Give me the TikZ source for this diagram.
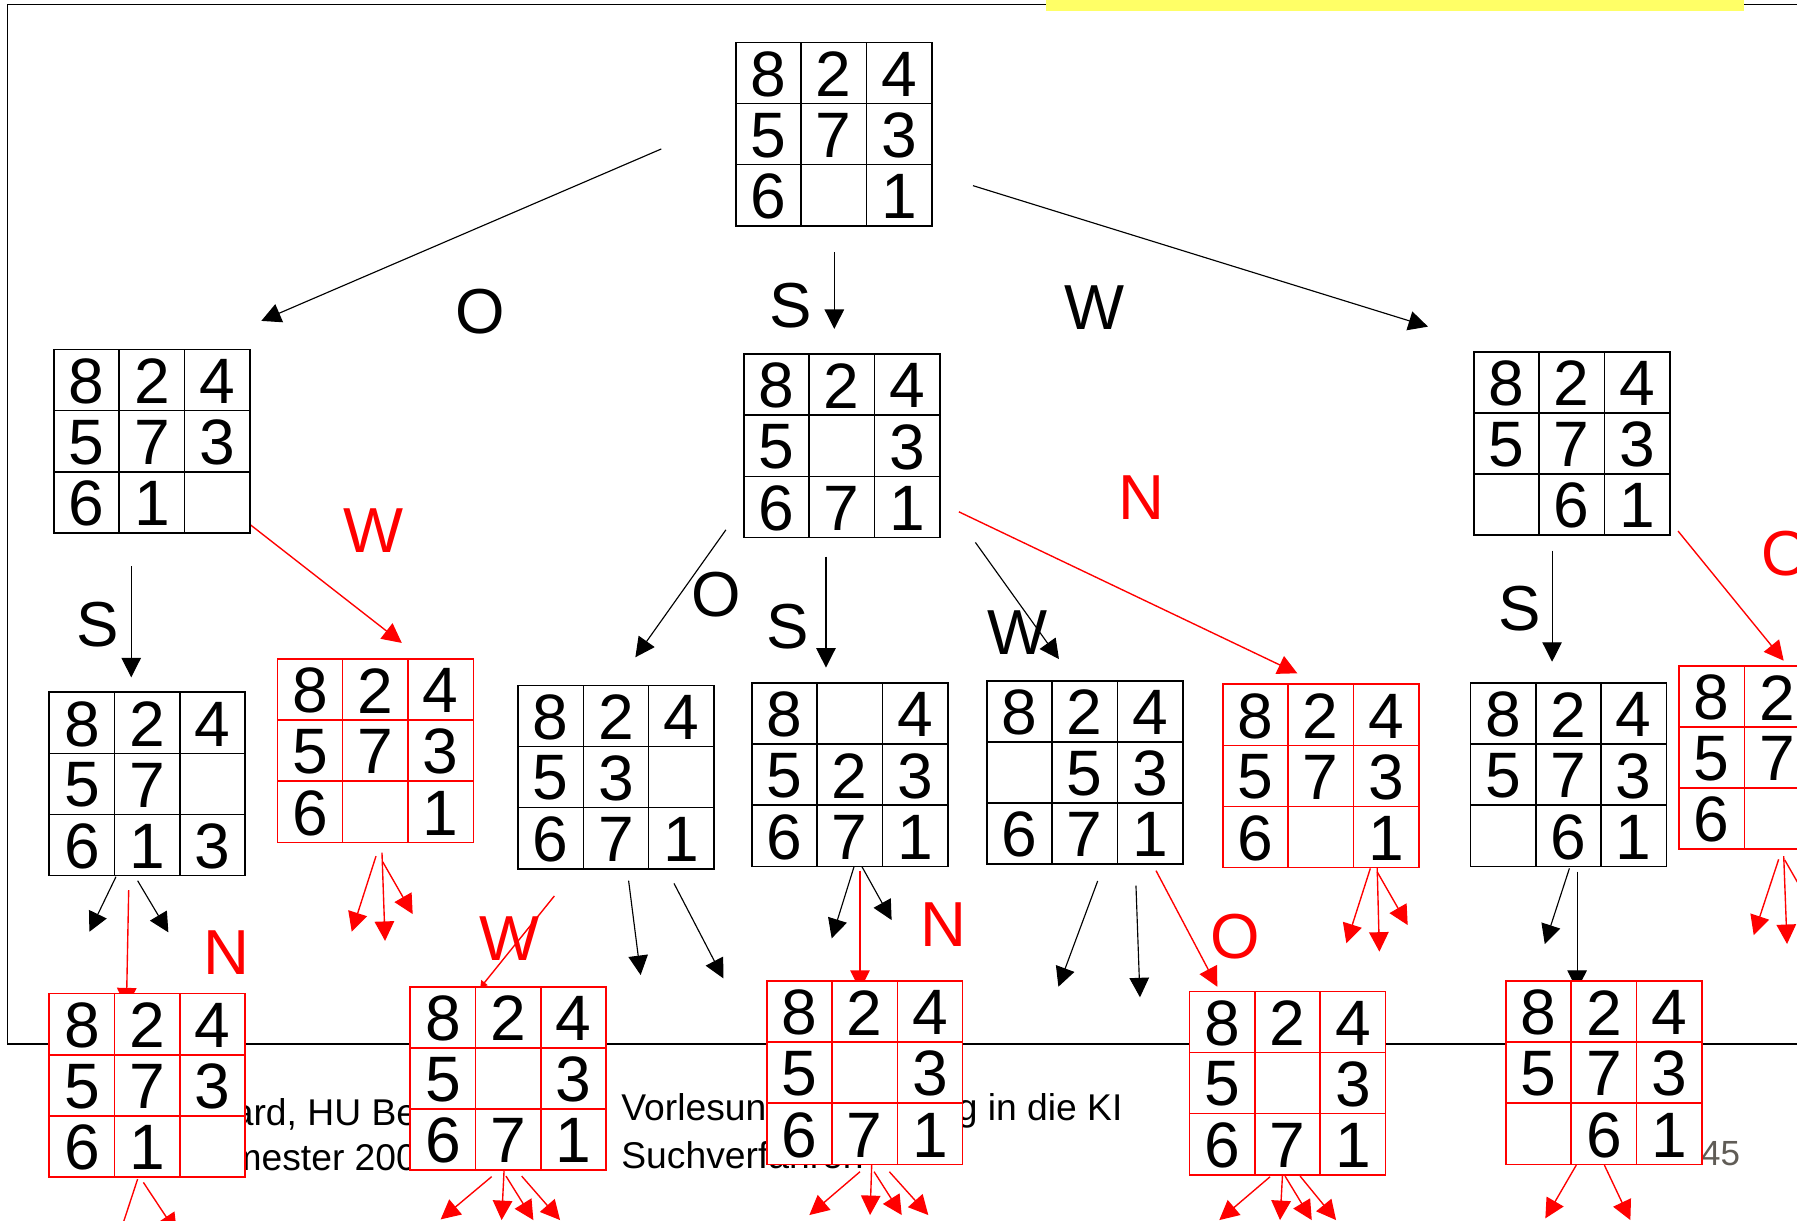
\documentclass[tikz,border=0pt]{standalone}
\usepackage{fontspec}
\setmainfont{Liberation Sans}
\usetikzlibrary{arrows.meta}
\definecolor{slideyellow}{RGB}{255,255,102}
\definecolor{pagegray}{RGB}{96,92,86}
\pgfdeclarelayer{links}
\pgfsetlayers{links,main}

\tikzset{
  boxnode/.style={minimum width=171pt, minimum height=160pt, inner sep=0pt, outer sep=0pt,
    line width=1.4pt, fill=white, anchor=north west},
  gridline/.style={line width=1.4pt},
  tile/.style={font=\fontsize{56}{60}\selectfont, inner sep=0pt, text=black},
  movelabel/.style={font=\fontsize{55.5}{60}\selectfont, inner sep=0pt},
  footer/.style={font=\fontsize{32.5}{36}\selectfont, inner sep=0pt, anchor=base west},
  frameline/.style={line width=1.3pt},
  move/.style={line width=1pt, -{Triangle[length=17pt,width=17pt]}},
  redmove/.style={move, red, line width=1.2pt},
  tinymove/.style={red, line width=1.2pt, -{Triangle[length=6pt,width=7pt]}},
}

% 8-puzzle state: name, left, top, grid colour, nine entries row by row
\newcommand\puzzle[5]{%
  \expandafter\xdef\csname bx#1\endcsname{#2}%
  \expandafter\xdef\csname by#1\endcsname{#3}%
  \node[boxnode, draw=#4] (#1) at (#2,#3) {};
  \draw[gridline, #4] (#2+57,#3) -- ++(0,160) (#2+114,#3) -- ++(0,160)
    (#2,#3+53.333) -- ++(171,0) (#2,#3+106.667) -- ++(171,0);
  \foreach \pzentry [count=\pzk from 0] in {#5}{%
    \pgfmathtruncatemacro\pzcol{mod(\pzk,3)}%
    \pgfmathtruncatemacro\pzrow{div(\pzk,3)}%
    \node[tile] (#1-\pzk) at ({#2+28.5+57*\pzcol},{#3+27.7+53.333*\pzrow}) {\pzentry};
  }%
}

% move arrow: [style]{from state}{x}{y}{to state}{x}{y}, points given in picture units
\newcommand\link[7][move]{%
  \edef\lkfx{\csname bx#2\endcsname}\edef\lkfy{\csname by#2\endcsname}%
  \edef\lktx{\csname bx#5\endcsname}\edef\lkty{\csname by#5\endcsname}%
  \draw[#1] ([shift={(#3-\lkfx,#4-\lkfy)}]#2.north west)
         -- ([shift={(#6-\lktx,#7-\lkty)}]#5.north west);
}

\begin{document}
\begin{tikzpicture}[x=1pt,y=-1pt]
\useasboundingbox (0,0) rectangle (1568,1065);
\clip (0,0) rectangle (1568,1065);

% slide frame and title bar
\draw[frameline] (6.5,911) -- (6.5,4) -- (1568,4);
\draw[frameline] (6.5,911) -- (1568,911);
\fill[slideyellow] (913,0) rectangle (1522,9.5);

% footer
\node[footer] (author) at (203,982) {ard, HU Be};
\node[footer] (term) at (201,1021) {mester 200};
\node[footer] (course) at (542,978) {Vorlesung Einführung in die KI};
\node[footer] (topic) at (542,1019.5) {Suchverfahren};
\node[footer, anchor=base east, font=\fontsize{30.5}{34}\selectfont, text=pagegray] (page) at (1518.5,1016.6) {45};

% search tree states
\puzzle{root}{642}{37}{black}{8,2,4,5,7,3,6,{},1}
\puzzle{oc}{47}{305}{black}{8,2,4,5,7,3,6,1,{}}
\puzzle{sc}{649}{309}{black}{8,2,4,5,{},3,6,7,1}
\puzzle{wc}{1286}{307}{black}{8,2,4,5,7,3,{},6,1}
\puzzle{os}{43}{604}{black}{8,2,4,5,7,{},6,1,3}
\puzzle{ow}{242}{575}{red}{8,2,4,5,7,3,6,{},1}
\puzzle{so}{452}{598}{black}{8,2,4,5,3,{},6,7,1}
\puzzle{ss}{656}{596}{black}{8,{},4,5,2,3,6,7,1}
\puzzle{sw}{861}{594}{black}{8,2,4,{},5,3,6,7,1}
\puzzle{sn}{1067}{597}{red}{8,2,4,5,7,3,6,{},1}
\puzzle{ws}{1283}{596}{black}{8,2,4,5,7,3,{},6,1}
\puzzle{wo}{1465}{581}{red}{8,2,{},5,7,{},6,{},{}}
\puzzle{osn}{43}{867}{red}{8,2,4,5,7,3,6,1,{}}
\puzzle{sow}{358}{861}{red}{8,2,4,5,{},3,6,7,1}
\puzzle{ssn}{669}{856}{red}{8,2,4,5,{},3,6,7,1}
\puzzle{swo}{1038}{865}{red}{8,2,4,5,{},3,6,7,1}
\puzzle{wss}{1314}{856}{red}{8,2,4,5,7,3,{},6,1}

% move labels
\node[movelabel] (l-o) at (419,272) {O};
\node[movelabel] (l-s) at (690,267) {S};
\node[movelabel] (l-w) at (955,268) {W};
\node[movelabel] (l-os) at (85.6,545) {S};
\node[movelabel, text=red] (l-ow) at (325.5,463) {W};
\node[movelabel] (l-so) at (625,519) {O};
\node[movelabel] (l-ss) at (687.6,547) {S};
\node[movelabel] (l-sw) at (888,552) {W};
\node[movelabel, text=red] (l-sn) at (996,434) {N};
\node[movelabel] (l-ws) at (1326,531) {S};
\node[movelabel, text=red] (l-wo) at (1559,483) {O};
\node[movelabel, text=red] (l-osn) at (197.8,831.6) {N};
\node[movelabel, text=red] (l-sow) at (444.3,819.2) {W};
\node[movelabel, text=red] (l-ssn) at (823,806.7) {N};
\node[movelabel, text=red] (l-swo) at (1077.6,817.4) {O};

% moves, drawn beneath the states
\begin{pgfonlayer}{links}
\clip (0,0) rectangle (1568,1065);
% first level
\link{root}{577}{130}{oc}{228}{280}
\link{root}{728}{220}{sc}{728}{287}
\link{root}{849}{162}{wc}{1246}{285}
% second level
\link{oc}{114.5}{494}{os}{114.5}{591}
\link[redmove]{oc}{207.7}{449.5}{ow}{350.6}{561}
\link{sc}{633.4}{462.3}{so}{554.4}{573.5}
\link{sc}{720.7}{485.7}{ss}{720.7}{582.5}
\link{sc}{851.1}{473.3}{sw}{924}{575.1}
\link[redmove]{sc}{836.7}{446.6}{sn}{1132}{587.5}
\link{wc}{1354.3}{480.5}{ws}{1354.3}{577.4}
\link[redmove]{wc}{1464.2}{463.4}{wo}{1556.4}{576.5}
% third level
\link{os}{101.2}{765}{os}{78}{813}
\link{os}{120.1}{768.5}{os}{146.9}{813.5}
\link[redmove]{os}{112.3}{776.6}{osn}{110.3}{879}
\link[redmove]{ow}{328.1}{747}{ow}{306.9}{813}
\link[redmove]{ow}{333.3}{744}{ow}{336}{821}
\link[redmove]{ow}{333.9}{751.9}{ow}{360.1}{797.6}
\link[tinymove]{so}{483.7}{781.8}{sow}{419}{862}
\link{so}{548.5}{768.4}{so}{559}{850.8}
\link{so}{588.1}{770.8}{so}{631.2}{853.7}
\link{ss}{746.3}{752.7}{ss}{725.7}{818.8}
\link{ss}{751.3}{754.8}{ss}{778}{802.8}
\link[redmove]{ss}{750.4}{759.7}{ssn}{750.4}{863.7}
\link{sw}{957.8}{768.7}{sw}{923.5}{861}
\link{sw}{991.2}{772.8}{sw}{994.7}{870.2}
\link[redmove]{sw}{1008.7}{759.7}{swo}{1062.2}{861}
\link[redmove]{sn}{1195.7}{757.7}{sn}{1174.8}{823.1}
\link[redmove]{sn}{1201.6}{753.9}{sn}{1203.6}{830.4}
\link[redmove]{sn}{1201.6}{760.6}{sn}{1228.3}{807.2}
\link{ws}{1369.4}{757.7}{ws}{1347.9}{823.7}
\link{ws}{1376.1}{760.6}{wss}{1376.1}{863.7}
\link[redmove]{wo}{1552}{749.8}{wo}{1530.2}{815.9}
\link[redmove]{wo}{1556.4}{747}{wo}{1559.3}{823.7}
\link[redmove]{wo}{1557.3}{750.4}{wo}{1584}{797}
% fourth level
\link[redmove]{osn}{120.1}{1028.8}{osn}{99}{1093}
\link[redmove]{osn}{125.1}{1031.7}{osn}{154.4}{1076}
\link[redmove]{sow}{429}{1026.7}{sow}{384.5}{1064}
\link[redmove]{sow}{439.8}{1021.8}{sow}{437.7}{1064.6}
\link[redmove]{sow}{441.5}{1026.2}{sow}{465.4}{1064.6}
\link[redmove]{sow}{455.2}{1026.2}{sow}{488.7}{1064.6}
\link[redmove]{ssn}{750.4}{1022.4}{ssn}{706.2}{1060.2}
\link[redmove]{ssn}{760.6}{1016.6}{ssn}{759.2}{1060.2}
\link[redmove]{ssn}{762.7}{1022.4}{ssn}{786.8}{1060.2}
\link[redmove]{ssn}{776}{1022.4}{ssn}{810}{1060.2}
\link[redmove]{swo}{1108.2}{1026.8}{swo}{1063.9}{1064.6}
\link[redmove]{swo}{1119.3}{1020.9}{swo}{1116.9}{1064.6}
\link[redmove]{swo}{1121.3}{1026.2}{swo}{1144.6}{1064.6}
\link[redmove]{swo}{1134.4}{1026.2}{swo}{1165.8}{1064.6}
\link[redmove]{wss}{1375.4}{1016.6}{wss}{1348.4}{1063.1}
\link[redmove]{wss}{1399.9}{1016.6}{wss}{1422.6}{1064.6}
\end{pgfonlayer}
\end{tikzpicture}
\end{document}
